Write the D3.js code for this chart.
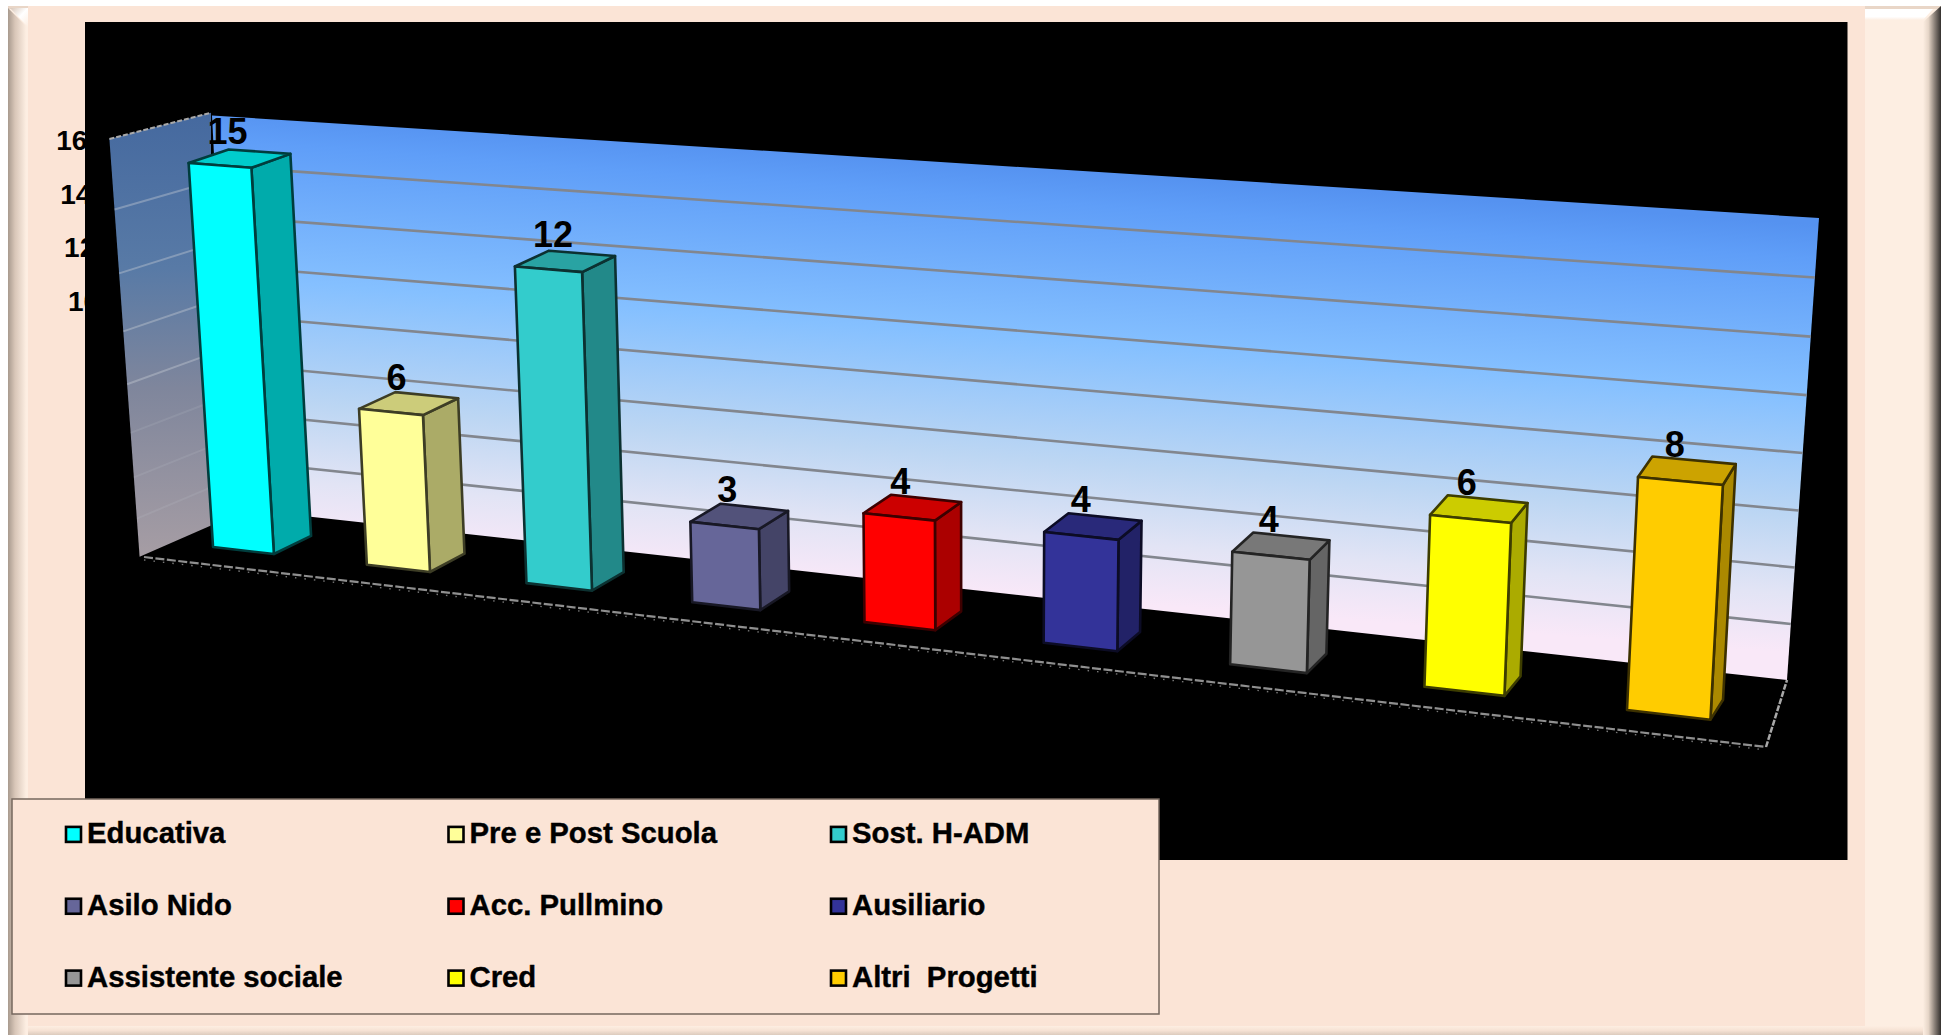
<!doctype html>
<html>
  <head>
    <meta charset="utf-8" />
    <title>Grafico personale</title>
    <style>
      html, body { margin: 0; padding: 0; background: #fff; overflow: hidden; }
      svg { display: block; }
      text { font-family: "Liberation Sans", Arial, sans-serif; font-weight: bold; fill: #000; }
    </style>
  </head>
  <body>
    <svg id="chart" width="1941" height="1035"></svg>
    <script src="https://d3js.org/d3.v7.min.js"></script>
    <script>
      const categories = ['Educativa', 'Pre e Post Scuola', 'Sost. H-ADM', 'Asilo Nido', 'Acc. Pullmino', 'Ausiliario', 'Assistente sociale', 'Cred', 'Altri  Progetti'];
      const values = [15, 6, 12, 3, 4, 4, 4, 6, 8];
      const colors = ['#00ffff', '#ffff99', '#33cccc', '#666699', '#ff0000', '#333399', '#969696', '#ffff00', '#ffcc00'];
      const yTicks = [16, 14, 12, 10];
      const gridValues = [14, 12, 10, 8, 6, 4, 2];

      const svg = d3.select('#chart');
      const defs = svg.append('defs');

      function gradient(id, stops, x1, y1, x2, y2, units) {
        const g = defs.append('linearGradient').attr('id', id)
          .attr('x1', x1).attr('y1', y1).attr('x2', x2).attr('y2', y2);
        if (units) g.attr('gradientUnits', 'userSpaceOnUse');
        stops.forEach((s) => g.append('stop').attr('offset', s[0]).attr('stop-color', s[1]));
      }
      gradient('bevelLeft', [[0, '#a89a8e'], [0.35, '#d8c6b8'], [0.9, '#fdeee2'], [1, '#fdeee2']], 0, 0, 1, 0);
      gradient('bevelRight', [[0, '#fdeee2'], [0.3, '#e6d6c8'], [0.65, '#8a8078'], [1, '#33302e']], 0, 0, 1, 0);
      gradient('bevelBottom', [[0, '#fdeee2'], [0.5, '#f6e2d4'], [1, '#dccbbd']], 0, 0, 0, 1);
      gradient('shine', [[0, '#ffffff'], [0.7, '#ffffff'], [1, '#fdeee2']], 0, 0, 0, 1);
      gradient('shineCorner', [[0, '#d8c6b8'], [0.5, '#ffffff'], [1, '#fdeee2']], 0, 0, 1, 1);
      gradient('backWall', [[0, '#5592f0'], [0.08, '#5f9ef8'], [0.4, '#85c0ff'], [0.68, '#bcd6f3'], [0.86, '#e2e4f5'], [1, '#f9e8f8']], 1015, 165, 983, 593, true);
      gradient('sideWall', [[0, '#45699f'], [0.35, '#587aa6'], [0.62, '#7f869c'], [1, '#a69da4']], 0, 0, 0, 1);

      // page frame
      function poly(pts, fill) {
        return svg.append('polygon').attr('points', pts.map((p) => p.join(',')).join(' ')).attr('fill', fill);
      }
      svg.append('rect').attr('x', 8).attr('y', 6).attr('width', 1933).attr('height', 1029).attr('fill', '#fdeee2');
      svg.append('rect').attr('x', 8).attr('y', 6).attr('width', 1933).attr('height', 3).attr('fill', '#e9d6c7');
      svg.append('rect').attr('x', 28).attr('y', 6).attr('width', 1837).attr('height', 1020).attr('fill', '#fbe4d6');
      poly([[8, 8], [28, 28], [28, 1035], [8, 1035]], 'url(#bevelLeft)');
      poly([[10, 8], [28, 8], [28, 27]], 'url(#shineCorner)');
      poly([[1865, 9], [1933, 9], [1923, 20], [1865, 20]], 'url(#shine)');
      poly([[1941, 6], [1923, 22], [1923, 1035], [1941, 1035]], 'url(#bevelRight)');
      poly([[28, 1026], [1923, 1026], [1923, 1035], [28, 1035]], 'url(#bevelBottom)');

      // chart area
      svg.append('rect').attr('x', 85).attr('y', 22).attr('width', 1762.5).attr('height', 838).attr('fill', '#000');

      // maps the unit square on a quad, corners: bottom left, bottom right, top right, top left
      function quadMap(q) {
        const [[x0, y0], [x1, y1], [x2, y2], [x3, y3]] = q;
        const dx1 = x1 - x2, dx2 = x3 - x2, sx = x0 - x1 + x2 - x3;
        const dy1 = y1 - y2, dy2 = y3 - y2, sy = y0 - y1 + y2 - y3;
        const det = dx1 * dy2 - dx2 * dy1;
        const g = (sx * dy2 - dx2 * sy) / det;
        const h = (dx1 * sy - sx * dy1) / det;
        const a = x1 - x0 + g * x1, b = x3 - x0 + h * x3;
        const d = y1 - y0 + g * y1, e = y3 - y0 + h * y3;
        return (s, t) => {
          const w = g * s + h * t + 1;
          return [(a * s + b * t + x0) / w, (d * s + e * t + y0) / w];
        };
      }

      // same idea for the bars: straight between the corners, but the categories
      // get wider to the right
      function barMap(q) {
        const [bl, br, tr, tl] = q;
        return (s, t) => {
          const p = (0.837 * s) / (1 - 0.163 * s);
          const lo = [bl[0] + (br[0] - bl[0]) * p, bl[1] + (br[1] - bl[1]) * p];
          const hi = [tl[0] + (tr[0] - tl[0]) * p, tl[1] + (tr[1] - tl[1]) * p];
          return [lo[0] + (hi[0] - lo[0]) * t, lo[1] + (hi[1] - lo[1]) * t];
        };
      }

      const xBand = d3.scaleBand().domain(categories).range([0, 1]).paddingInner(0.6).paddingOuter(0.3);
      const yUnit = d3.scaleLinear().domain([0, 16]).range([0, 1]);

      const barFront = barMap([[168, 541.8], [1774, 727], [1801, 255], [140.4, 134]]);
      const barBack = barMap([[207, 523.8], [1785.5, 707], [1813, 233], [181.4, 121]]);
      const wallBack = quadMap([[232, 508], [1787, 680], [1819, 218], [212, 115.5]]);
      const wallSide = quadMap([[139.6, 556.7], [211, 525.5], [211, 112.7], [109.4, 139]]);

      // walls
      poly([wallSide(0, 0), wallSide(1, 0), wallSide(1, 1), wallSide(0, 1)], 'url(#sideWall)');
      poly([wallBack(0, 0), wallBack(1, 0), wallBack(1, 1), wallBack(0, 1)], 'url(#backWall)');

      svg.append('line')
        .attr('x1', wallSide(0, 1)[0]).attr('y1', wallSide(0, 1)[1])
        .attr('x2', wallSide(1, 1)[0]).attr('y2', wallSide(1, 1)[1])
        .attr('stroke', '#a9a9a9').attr('stroke-width', 2).attr('stroke-dasharray', '5 2');

      svg.selectAll('.grid-back').data(gridValues).join('line')
        .attr('class', 'grid-back')
        .attr('x1', (d) => wallBack(0, yUnit(d))[0]).attr('y1', (d) => wallBack(0, yUnit(d))[1])
        .attr('x2', (d) => wallBack(1, yUnit(d))[0]).attr('y2', (d) => wallBack(1, yUnit(d))[1])
        .attr('stroke', '#82868e').attr('stroke-width', 2.6);

      svg.selectAll('.grid-side').data(gridValues).join('line')
        .attr('class', 'grid-side')
        .attr('x1', (d) => wallSide(0, yUnit(d))[0]).attr('y1', (d) => wallSide(0, yUnit(d))[1])
        .attr('x2', (d) => wallSide(1, yUnit(d))[0]).attr('y2', (d) => wallSide(1, yUnit(d))[1])
        .attr('stroke', '#c8ccd4').attr('stroke-opacity', (d) => (d >= 8 ? 0.4 : 0.14)).attr('stroke-width', 2);

      // floor edges
      const floorFL = [144, 557], floorFR = [1766, 747], floorBR = [1787, 680];
      svg.append('line')
        .attr('x1', floorFL[0]).attr('y1', floorFL[1]).attr('x2', floorFR[0]).attr('y2', floorFR[1])
        .attr('stroke', '#8f8f8f').attr('stroke-width', 2.2).attr('stroke-dasharray', '9 2.5');
      svg.append('line')
        .attr('x1', floorFL[0]).attr('y1', floorFL[1] + 3).attr('x2', floorFR[0]).attr('y2', floorFR[1] + 3)
        .attr('stroke', '#777').attr('stroke-width', 1.4).attr('stroke-dasharray', '1.5 8');
      svg.append('line')
        .attr('x1', floorFR[0]).attr('y1', floorFR[1]).attr('x2', floorBR[0]).attr('y2', floorBR[1])
        .attr('stroke', '#a8a8a8').attr('stroke-width', 2.5).attr('stroke-dasharray', '6 1.5');

      // bars
      const bars = svg.selectAll('.bar')
        .data(categories.map((name, i) => ({ name, value: values[i], color: colors[i] })))
        .join('g')
        .attr('class', 'bar');

      function face(g, pts, fill, color) {
        g.append('polygon')
          .attr('points', pts.map((p) => p.join(',')).join(' '))
          .attr('fill', fill)
          .attr('stroke', d3.rgb(color).darker(4))
          .attr('stroke-width', 2.6)
          .attr('stroke-linejoin', 'round');
      }

      bars.each(function (d) {
        const g = d3.select(this);
        const s0 = xBand(d.name);
        const s1 = s0 + xBand.bandwidth();
        const t = yUnit(d.value);
        const rgb = d3.rgb(d.color);
        const shade = (k) => d3.rgb(rgb.r * k, rgb.g * k, rgb.b * k).formatHex();
        face(g, [barFront(s1, 0), barBack(s1, 0), barBack(s1, t), barFront(s1, t)], shade(0.67), d.color);
        face(g, [barFront(s0, t), barFront(s1, t), barBack(s1, t), barBack(s0, t)], shade(0.8), d.color);
        face(g, [barFront(s0, 0), barFront(s1, 0), barFront(s1, t), barFront(s0, t)], d.color, d.color);

        const a = barFront(s0, t), b = barBack(s1, t);
        g.append('text')
          .attr('x', (a[0] + b[0]) / 2 - 12)
          .attr('y', (a[1] + b[1]) / 2 - 27)
          .attr('dy', '0.36em')
          .attr('text-anchor', 'middle')
          .attr('font-size', 36)
          .text(d.value);
      });

      // value axis, what falls on the black area can't be seen
      const tickY = d3.scaleLinear().domain([10, 16]).range([301, 140]);
      const tickX = d3.scaleLinear().domain([10, 16]).range([68, 56.3]);
      svg.selectAll('.tick').data(yTicks).join('text')
        .attr('class', 'tick')
        .attr('x', (d) => tickX(d))
        .attr('y', (d) => tickY(d))
        .attr('dy', '0.36em')
        .attr('font-size', 28)
        .text((d) => d);

      // legend
      svg.append('rect')
        .attr('x', 12).attr('y', 799).attr('width', 1147).attr('height', 215)
        .attr('fill', '#fbe4d6').attr('stroke', '#75675e').attr('stroke-width', 1.5);

      const legendCol = d3.scaleLinear().domain([0, 2]).range([65, 830]);
      const legendRow = d3.scaleLinear().domain([0, 2]).range([843.3, 987]);
      const legend = svg.selectAll('.legend-item').data(categories).join('g')
        .attr('class', 'legend-item')
        .attr('transform', (d, i) => `translate(${legendCol(i % 3)},${legendRow(Math.floor(i / 3))})`);
      legend.append('rect')
        .attr('x', 1).attr('y', -16.4).attr('width', 15).attr('height', 15)
        .attr('fill', (d, i) => colors[i])
        .attr('stroke', '#000').attr('stroke-width', 2.6);
      legend.append('text')
        .attr('x', 22).attr('y', 0)
        .attr('font-size', 29.3)
        .attr('stroke', '#000').attr('stroke-width', 0.4)
        .style('white-space', 'pre')
        .attr('xml:space', 'preserve')
        .text((d) => d);
    </script>
  </body>
</html>
